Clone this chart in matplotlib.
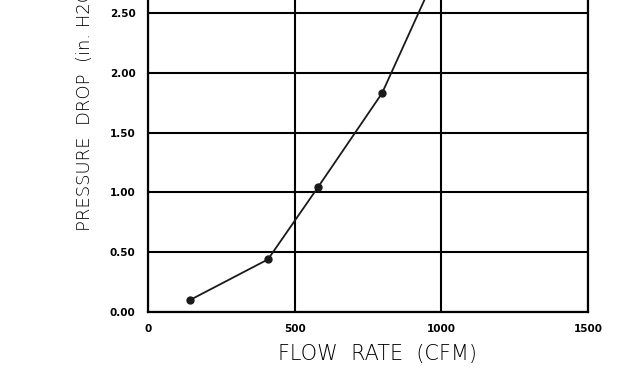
import matplotlib.pyplot as plt
import numpy as np

# flow rate vs pressure drop readings
flow_cfm = [143, 409, 580, 798, 1000]
pressure_drop = [0.10, 0.44, 1.045, 1.83, 2.92]

x_ticks = [0, 500, 1000, 1500]
x_tick_labels = ["0", "500", "1000", "1500"]
y_ticks = [0.0, 0.5, 1.0, 1.5, 2.0, 2.5, 3.0]
y_tick_labels = ["0.00", "0.50", "1.00", "1.50", "2.00", "2.50", "3.00"]

fig = plt.figure(figsize=(6.23, 3.91), dpi=100)
# axes run past the top edge of the sheet
ax = fig.add_axes([148 / 623, 79 / 391, 440 / 623, 358.8 / 391])

ax.plot(flow_cfm, pressure_drop, color="#1a1a1a", lw=1.3, marker="o",
        ms=5, mfc="#1a1a1a", mec="#1a1a1a", zorder=3)

ax.set_xlim(0, 1500)
ax.set_ylim(0, 3.0)
ax.set_xticks(x_ticks)
ax.set_xticklabels(x_tick_labels)
ax.set_yticks(y_ticks)
ax.set_yticklabels(y_tick_labels)
ax.tick_params(length=0, labelsize=7.5, pad=9)
for lab in ax.get_xticklabels() + ax.get_yticklabels():
    lab.set_fontweight("bold")

ax.grid(True, color="black", lw=1.5)
ax.set_axisbelow(True)
for s in ax.spines.values():
    s.set_linewidth(1.6)
    s.set_color("black")

fig.text(378 / 623, 27 / 391, "FLOW  RATE  (CFM)", ha="center", va="bottom",
         fontsize=15, fontweight="light", color="black")
fig.text(85 / 623, (391 - 231) / 391, "PRESSURE  DROP  (in. H2O)",
         rotation=90, ha="center", va="bottom", fontsize=13,
         fontweight="light", color="black")

fig.savefig("out.png", dpi=100)
